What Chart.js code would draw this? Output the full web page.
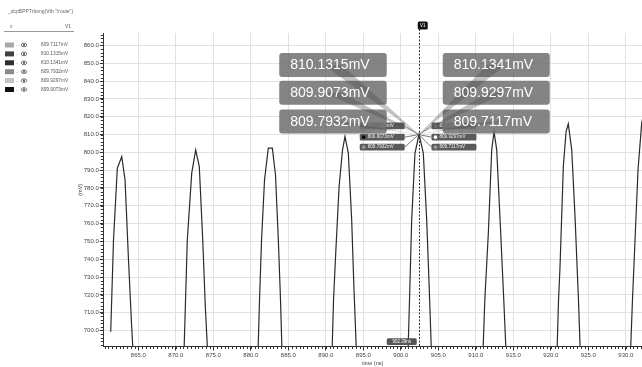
<!DOCTYPE html>
<html><head><meta charset="utf-8">
<script src="https://cdn.jsdelivr.net/npm/chart.js@4/dist/chart.umd.min.js"></script>
<style>html,body{margin:0;padding:0;background:#fff;overflow:hidden}canvas{display:block}</style>
</head><body>
<canvas id="c" width="642" height="367" style="width:642px;height:367px"></canvas>
<script>
// ---- data ----
const timeNs = [
  861.32, 861.69, 862.20, 862.79, 863.23, 863.69, 864.07, 864.29, 867.5,
  871.09, 871.27, 871.53, 872.12, 872.65, 873.13, 873.59, 873.93, 874.24, 877.5,
  880.96, 881.16, 881.43, 881.83, 882.33, 882.87, 883.29, 883.67, 883.96, 884.16, 887.5,
  890.83, 891.03, 891.32, 891.77, 892.23, 892.56, 893.00, 893.45, 893.76, 894.08, 897.5,
  900.96, 901.16, 901.45, 901.89, 902.43, 903.00, 903.45, 903.80, 904.08, 907.5,
  910.96, 911.20, 911.67, 912.12, 912.43, 912.79, 913.32, 913.73, 914.03, 917.5,
  920.83, 921.03, 921.23, 921.67, 922.03, 922.33, 922.79, 923.23, 923.69, 923.93, 927.5,
  930.63, 930.89, 931.23, 931.63, 932.12, 932.36
];
const voltMv = [
  699.3, 750.8, 791.1, 797.6, 784.5, 739.6, 705.9, 687.9, 600,
  687.9, 713.4, 750.8, 788.3, 801.4, 792.0, 750.8, 713.4, 687.9, 600,
  687.9, 717.1, 750.8, 784.6, 802.4, 802.4, 787.4, 750.8, 717.1, 687.9, 600,
  687.9, 717.1, 743.4, 780.8, 801.4, 808.9, 799.6, 762.1, 722.8, 687.9, 600,
  687.9, 717.1, 762.1, 799.6, 810.1, 799.6, 762.1, 722.8, 687.9, 600,
  687.9, 717.1, 754.6, 801.4, 811.5, 801.4, 754.6, 717.1, 687.9, 600,
  687.9, 717.1, 735.8, 792.0, 811.5, 816.0, 801.4, 763.9, 717.1, 687.9, 600,
  687.9, 717.1, 750.8, 790.2, 816.4, 821.0
];
const xTicks = [865, 870, 875, 880, 885, 890, 895, 900, 905, 910, 915, 920, 925, 930];
const yTicks = [700, 710, 720, 730, 740, 750, 760, 770, 780, 790, 800, 810, 820, 830, 840, 850, 860];
const cursorTime = 902.39;
const cursorText = '902.39ns';
const cursorValue = 810.0;
const cursorName = 'V1';
const leftReadouts = ['810.1315mV', '809.9073mV', '809.7932mV'];
const rightReadouts = ['810.1341mV', '809.9297mV', '809.7117mV'];
const legendTitle = '_dcpBPPTrfomg(Vtb "/route")';
const legendValues = ['809.7117mV', '810.1315mV', '810.1341mV', '809.7932mV', '809.9297mV', '809.9073mV'];
const legendColors = ['#a8a8a8', '#404040', '#2e2e2e', '#8a8a8a', '#c4c4c4', '#111111'];
const leftDots = ['#777', '#000', '#999'];
const rightDots = ['#777', '#fff', '#999'];

const FONT = "'Liberation Sans', Arial, sans-serif";
Chart.defaults.font.family = FONT;

function rr(ctx, x, y, w, h, r) { ctx.beginPath(); ctx.roundRect(x, y, w, h, r); }

const annot = {
  id: 'annot',
  afterDraw(chart) {
    const ctx = chart.ctx, xs = chart.scales.x, ys = chart.scales.y, a = chart.chartArea;
    ctx.save();
    // minor ticks
    ctx.strokeStyle = '#333'; ctx.lineWidth = 1; ctx.beginPath();
    for (let k = 1721; k <= 1864; k++) {
      const px = Math.round(xs.getPixelForValue(k / 2)) + 0.5;
      if (px > a.right) break;
      ctx.moveTo(px, a.bottom); ctx.lineTo(px, a.bottom + 2.5);
    }
    for (let v = 692; v <= 866; v += 2) {
      const py = Math.round(ys.getPixelForValue(v)) + 0.5;
      ctx.moveTo(a.left - 2.5, py); ctx.lineTo(a.left, py);
    }
    ctx.stroke();

    // cursor
    const P = { x: xs.getPixelForValue(cursorTime), y: ys.getPixelForValue(cursorValue) };
    const cx = Math.round(P.x) + 0.5;
    ctx.setLineDash([2, 1.5]); ctx.strokeStyle = '#333'; ctx.lineWidth = 1;
    ctx.beginPath(); ctx.moveTo(cx, 29); ctx.lineTo(cx, a.bottom); ctx.stroke();
    ctx.setLineDash([]);
    ctx.fillStyle = '#111'; rr(ctx, P.x - 1, 21.5, 10, 8, 1.5); ctx.fill();
    ctx.fillStyle = '#fff'; ctx.font = '4.5px ' + FONT; ctx.textAlign = 'center'; ctx.textBaseline = 'middle';
    ctx.fillText(cursorName, P.x + 4, 25.5);
    // bottom time label
    ctx.fillStyle = '#555'; rr(ctx, P.x - 32, a.bottom - 8.2, 30, 6.8, 1.5); ctx.fill();
    ctx.fillStyle = '#fff'; ctx.fillText(cursorText, P.x - 17, a.bottom - 4.8);

    // small readouts
    const smallTops = [-12, -0.7, 9.3];
    ctx.lineWidth = 0.7; ctx.strokeStyle = '#444';
    for (let i = 0; i < 3; i++) {
      const ty = P.y + smallTops[i];
      ctx.beginPath(); ctx.moveTo(P.x - 14, ty + 3.3); ctx.lineTo(P.x, P.y); ctx.stroke();
      ctx.beginPath(); ctx.moveTo(P.x + 12.7, ty + 3.3); ctx.lineTo(P.x, P.y); ctx.stroke();
    }
    ctx.font = '4.6px ' + FONT; ctx.textAlign = 'left';
    for (let i = 0; i < 3; i++) {
      const ty = P.y + smallTops[i];
      const lx = P.x - 59, rx = P.x + 12.7;
      ctx.fillStyle = '#5b5b5b'; rr(ctx, lx, ty, 45, 6.6, 1.5); ctx.fill();
      rr(ctx, rx, ty, 45, 6.6, 1.5); ctx.fill();
      ctx.fillStyle = leftDots[i]; ctx.beginPath(); ctx.arc(lx + 4, ty + 3.3, 1.8, 0, 7); ctx.fill();
      ctx.fillStyle = rightDots[i]; ctx.beginPath(); ctx.arc(rx + 4, ty + 3.3, 1.8, 0, 7); ctx.fill();
      ctx.fillStyle = '#f2f2f2';
      ctx.fillText(leftReadouts[i], lx + 8, ty + 3.4);
      ctx.fillText(rightReadouts[i], rx + 8, ty + 3.4);
    }

    // big readouts
    const bigTops = [-81.5, -53.8, -25];
    const boxes = [];
    for (let i = 0; i < 3; i++) {
      boxes.push({ x: P.x - 32 - 107.5, y: P.y + bigTops[i], w: 107.5, h: 24, t: leftReadouts[i] });
      boxes.push({ x: P.x + 24, y: P.y + bigTops[i], w: 107, h: 24, t: rightReadouts[i] });
    }
    ctx.fillStyle = 'rgba(112,112,112,0.86)';
    boxes.forEach(b => { rr(ctx, b.x, b.y, b.w, b.h, 3); ctx.fill(); });
    ctx.fillStyle = 'rgba(70,70,70,0.33)';
    boxes.forEach(b => {
      const bx = b.x + b.w / 2, by = b.y + b.h / 2;
      ctx.beginPath(); ctx.moveTo(bx - 9, by); ctx.lineTo(bx + 9, by); ctx.lineTo(P.x, P.y); ctx.closePath(); ctx.fill();
    });
    ctx.fillStyle = '#fff'; ctx.font = '14px ' + FONT; ctx.textBaseline = 'middle';
    boxes.forEach(b => ctx.fillText(b.t, b.x + 11, b.y + b.h / 2 + 0.5));

    // legend panel
    ctx.fillStyle = '#666'; ctx.font = '5px ' + FONT; ctx.textBaseline = 'middle';
    ctx.fillText(legendTitle, 8, 12);
    ctx.fillText('x', 10, 27);
    ctx.fillText(cursorName, 65, 27);
    ctx.strokeStyle = '#999'; ctx.lineWidth = 1;
    ctx.beginPath(); ctx.moveTo(4, 31.5); ctx.lineTo(74, 31.5); ctx.stroke();
    for (let i = 0; i < legendValues.length; i++) {
      const cy = 45 + i * 8.9;
      ctx.fillStyle = legendColors[i]; ctx.fillRect(5, cy - 2.5, 9, 5);
      ctx.fillStyle = '#777'; ctx.fillText('..', 16, cy);
      ctx.strokeStyle = '#555'; ctx.lineWidth = 0.8;
      ctx.beginPath(); ctx.ellipse(24, cy, 2.8, 1.8, 0, 0, 7); ctx.stroke();
      ctx.fillStyle = '#333'; ctx.beginPath(); ctx.arc(24, cy, 1, 0, 7); ctx.fill();
      ctx.fillStyle = '#555'; ctx.font = '4.8px ' + FONT;
      ctx.fillText(legendValues[i], 41, cy);
    }
    ctx.restore();
  }
};

new Chart(document.getElementById('c'), {
  type: 'line',
  data: {
    datasets: [{
      label: cursorName,
      data: timeNs.map((t, i) => ({ x: t, y: voltMv[i] })),
      borderColor: '#2b2b2b', borderWidth: 1.2, pointRadius: 0, tension: 0, fill: false
    }]
  },
  options: {
    responsive: false, animation: false, devicePixelRatio: 1,
    layout: { padding: { left: 76, top: 33, right: 0, bottom: 0 } },
    plugins: { legend: { display: false }, tooltip: { enabled: false } },
    scales: {
      x: {
        type: 'linear', min: 860.33, max: 932.16,
        afterBuildTicks: s => { s.ticks = xTicks.map(v => ({ value: v })); },
        afterFit: s => { s.height = 20.5; },
        ticks: { callback: v => Number(v).toFixed(1), font: { size: 6 }, color: '#444', maxRotation: 0, autoSkip: false, padding: 1 },
        grid: { color: '#e2e2e2', lineWidth: 1, tickColor: '#333', tickLength: 4 },
        border: { color: '#333', width: 1 },
        title: { display: true, text: 'time (ns)', font: { size: 5.5 }, color: '#444', padding: { top: 0, bottom: 0 } }
      },
      y: {
        type: 'linear', min: 691, max: 867,
        afterBuildTicks: s => { s.ticks = yTicks.map(v => ({ value: v })); },
        afterFit: s => { s.width = 27.3; },
        ticks: { callback: v => Number(v).toFixed(1), font: { size: 6 }, color: '#444', autoSkip: false, padding: 1 },
        grid: { color: '#e2e2e2', lineWidth: 1, tickColor: '#333', tickLength: 3.5 },
        border: { color: '#333', width: 1 },
        title: { display: true, text: '(mV)', font: { size: 5.5 }, color: '#444', padding: { top: 1.5, bottom: 0 } }
      }
    }
  },
  plugins: [annot]
});
</script>
</body></html>
